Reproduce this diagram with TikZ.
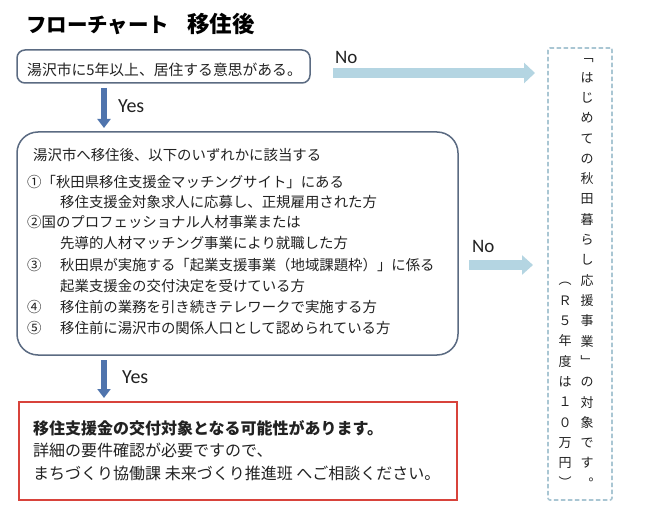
\documentclass[tikz,border=0pt]{standalone}
\usepackage{fontspec}
\setmainfont{Noto Sans CJK JP}
\newfontfamily\lat{Carlito}
\usetikzlibrary{arrows.meta}
\definecolor{framecol}{HTML}{5B6B82}
\definecolor{yesblue}{HTML}{4F74AD}
\definecolor{nolight}{HTML}{B4D5E2}
\definecolor{redframe}{HTML}{D8433B}
\definecolor{dashcol}{HTML}{A9C6D3}
\definecolor{txt}{HTML}{222222}
\newcommand\bodyfnt{\fontsize{14.4}{17}\selectfont}
\newcommand\redfnt{\fontsize{16}{19}\selectfont}
\tikzset{
  txtnode/.style={anchor=base west, inner sep=0pt, text=txt, font=\bodyfnt},
  redtxt/.style={anchor=base west, inner sep=0pt, text=txt, font=\redfnt},
  titletxt/.style={anchor=base west, inner sep=0pt, text=black},
  roundbox/.style={draw=framecol, line width=1.5pt, inner sep=0pt},
  yesarrow/.style={draw=yesblue, line width=6pt, -{Triangle[width=13pt,length=9pt]}},
  noarrow/.style={draw=nolight, line width=10pt, -{Triangle[width=20pt,length=11pt]}},
  lbl/.style={anchor=base west, inner sep=0pt, text=txt, font=\lat\fontsize{19}{22}\selectfont},
  vchar/.style={inner sep=0pt, text=txt, font=\fontsize{13}{15}\selectfont, text height=11.4pt, text depth=1.6pt}
}
\begin{document}
\begin{tikzpicture}[x=1pt,y=-1pt]
\useasboundingbox[fill=white] (0,0) rectangle (650,526);

% title
\node[titletxt, font=\fontsize{20.5}{24}\selectfont\bfseries] (title) at (26,33) {フローチャート};
\node[titletxt, font=\fontsize{22.5}{26}\selectfont\bfseries] (title2) at (187,33) {移住後};

% box 1
\node[roundbox, rounded corners=8pt, minimum width=293pt, minimum height=33pt] (b1) at (163.5,66.5) {};
\node[txtnode, font=\fontsize{14.8}{17}\selectfont] (b1t) at (27,75.5) {湯沢市に5年以上、居住する意思がある。};

% yes arrow 1
\coordinate (y1s) at (104,88);
\coordinate (y1e) at (104,128);
\draw[yesarrow] (y1s) -- (y1e);
\node[lbl, font=\lat\fontsize{20}{22}\selectfont] (yes1) at (118,113) {Yes};

% box 2
\node[roundbox, rounded corners=21pt, minimum width=441pt, minimum height=223pt] (b2) at (237.5,243.5) {};
\node[txtnode] (l0) at (33,160.5) {湯沢市へ移住後、以下のいずれかに該当する};
\node[txtnode] (l1) at (27,187.5) {①「秋田県移住支援金マッチングサイト」にある};
\node[txtnode] (l2) at (60,207.5) {移住支援金対象求人に応募し、正規雇用された方};
\node[txtnode] (l3) at (27,227.5) {②国のプロフェッショナル人材事業または};
\node[txtnode] (l4) at (60,248.5) {先導的人材マッチング事業により就職した方};
\node[txtnode] (l5n) at (27,270.5) {③};
\node[txtnode] (l5) at (60,270.5) {秋田県が実施する「起業支援事業（地域課題枠）」に係る};
\node[txtnode] (l6) at (60,291.5) {起業支援金の交付決定を受けている方};
\node[txtnode] (l7n) at (27,312.5) {④};
\node[txtnode] (l7) at (60,312.5) {移住前の業務を引き続きテレワークで実施する方};
\node[txtnode] (l8n) at (27,333.5) {⑤};
\node[txtnode] (l8) at (60,333.5) {移住前に湯沢市の関係人口として認められている方};

% yes arrow 2
\coordinate (y2s) at (104,360);
\coordinate (y2e) at (104,398);
\draw[yesarrow] (y2s) -- (y2e);
\node[lbl, font=\lat\fontsize{20}{22}\selectfont] (yes2) at (122,383.3) {Yes};

% red box
\node[draw=redframe, line width=2.5pt, inner sep=0pt, minimum width=438pt, minimum height=98pt] (b3) at (238,451) {};
\node[redtxt, font=\redfnt\bfseries] (r1) at (33,434) {移住支援金の交付対象となる可能性があります。};
\node[redtxt] (r2) at (33,456.5) {詳細の要件確認が必要ですので、};
\node[redtxt] (r3) at (33,479.5) {まちづくり協働課 未来づくり推進班 へご相談ください。};

% no arrows
\coordinate (n1s) at (333,73);
\coordinate (n1e) at (535,73);
\draw[noarrow] (n1s) -- (n1e);
\node[lbl] (no1) at (335,63.3) {No};
\coordinate (n2s) at (469,265);
\coordinate (n2e) at (533,265);
\draw[noarrow, -{Triangle[width=19pt,length=11pt]}] (n2s) -- (n2e);
\node[lbl] (no2) at (472,252.7) {No};

% dashed box
\node[draw=dashcol, line width=1.6pt, dash pattern=on 4.5pt off 2.5pt, rounded corners=2pt, inner sep=0pt, minimum width=64pt, minimum height=452pt] (vb) at (580,274) {};
\foreach \c [count=\i from 0] in {﹁,は,じ,め,て,の,秋,田,暮,ら,し,応,援,事,業,﹂,の,対,象,で,す,︒}
  \node[vchar] (v\i) at (587,{57+20.3*\i}) {\c};
\foreach \c [count=\i from 0] in {︵,Ｒ,５,年,度,は,１,０,万,円,︶}
  \node[vchar] (w\i) at (565,{280+20.3*\i}) {\c};
\end{tikzpicture}
\end{document}
